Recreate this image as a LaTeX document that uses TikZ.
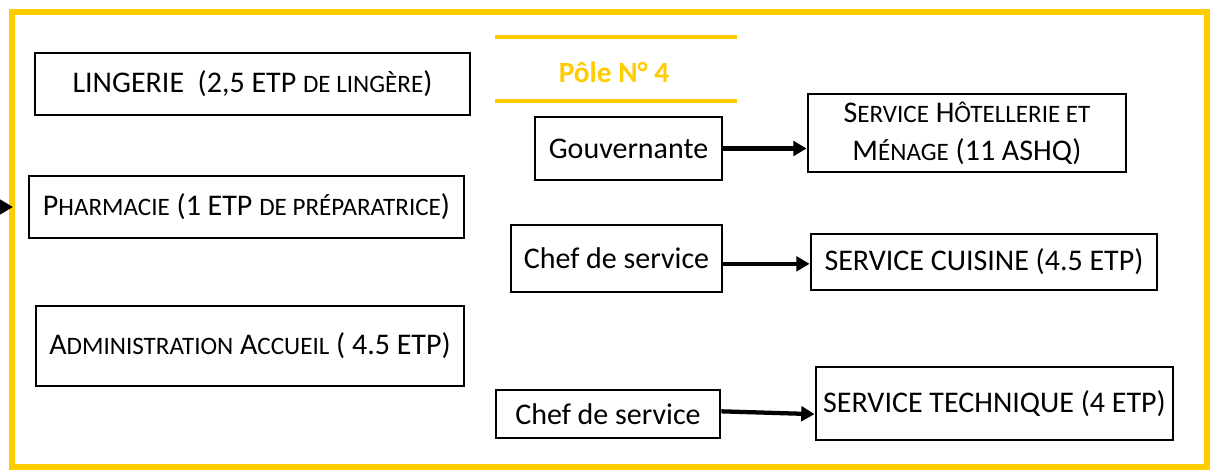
\documentclass[tikz,border=0pt]{standalone}
\usepackage{fontspec}
\setmainfont{Carlito}
\usetikzlibrary{arrows.meta}
\definecolor{pyellow}{HTML}{FFCC00}
\newcommand\fsc[1]{{\fontsize{18.8}{22}\selectfont #1}}
\begin{document}
\begin{tikzpicture}[x=0.75pt,y=-0.75pt,
  box/.style={draw=black,line width=2.1pt,inner sep=2pt,align=center,font=\fontsize{22.5}{25}\selectfont},
  arr/.style={line width=3.2pt,-{Triangle[length=10pt,width=11pt]}},
  frame/.style={draw=pyellow,line width=4.5pt},
  yline/.style={draw=pyellow,line width=2.6pt}]
\useasboundingbox (0,0) rectangle (1224,473);
\draw[frame] (12,12) rectangle (1207,467);
\node[box,minimum width={435*0.75pt},minimum height={62*0.75pt}] (ling) at (252.5,84) {LINGERIE\ \ (2,5 ETP \fsc{DE LINGÈRE})};
\node[box,minimum width={435*0.75pt},minimum height={62*0.75pt}] (pharm) at (246.5,207) {\raisebox{-2pt}{P\fsc{HARMACIE} (1 ETP \fsc{DE PRÉPARATRICE})}};
\node[box,minimum width={428*0.75pt},minimum height={80*0.75pt}] (admin) at (250,346) {\raisebox{-2pt}{A\fsc{DMINISTRATION} A\fsc{CCUEIL} ( 4.5 ETP)}};
\draw[yline] (495,37) -- (737,37);
\draw[yline] (495,101) -- (737,101);
\node[text=pyellow,font=\fontsize{22}{25}\selectfont\bfseries] (pole) at (614,72) {Pôle N° 4};
\node[box,minimum width={187*0.75pt},minimum height={63*0.75pt}] (gouv) at (628.5,148.5) {Gouvernante};
\node[box,minimum width={318*0.75pt},minimum height={78*0.75pt},font=\fontsize{22.5}{28.5}\selectfont] (hotel) at (967,133) {S\fsc{ERVICE} H\fsc{ÔTELLERIE ET}\\M\fsc{ÉNAGE} (11 ASHQ)};
\node[box,minimum width={211*0.75pt},minimum height={67*0.75pt}] (chef1) at (616.5,258.5) {Chef de service};
\node[box,minimum width={346*0.75pt},minimum height={56*0.75pt}] (cuis) at (984,262) {SERVICE CUISINE (4.5 ETP)};
\node[box,minimum width={224*0.75pt},minimum height={48*0.75pt}] (chef2) at (608,414) {Chef de service};
\node[box,minimum width={357*0.75pt},minimum height={73*0.75pt}] (tech) at (994.5,403.5) {SERVICE TECHNIQUE (4 ETP)};
\draw[arr] (gouv.east) -- (gouv.east -| hotel.west);
\draw[arr] ([yshift=-4pt]chef1.east) -- ([yshift=-4pt]chef1.east -| cuis.west);
\draw[arr] ([yshift=2pt]chef2.east) -- ([yshift=-8pt]tech.west);
\coordinate (pin0) at (0,207);
\coordinate (pin1) at (13,207);
\draw[arr] (pin0) -- (pin1);
\end{tikzpicture}
\end{document}
